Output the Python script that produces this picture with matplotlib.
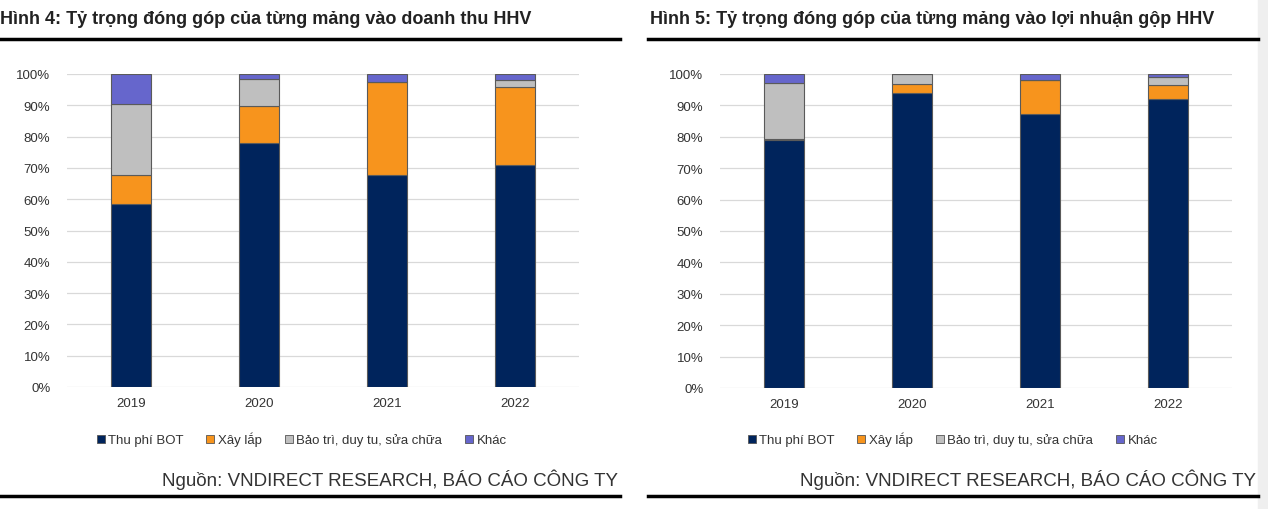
import numpy as np
import matplotlib
matplotlib.use("Agg")
import matplotlib.pyplot as plt
from matplotlib.lines import Line2D
from matplotlib.patches import Rectangle

plt.rcParams['font.family'] = ['Liberation Sans', 'DejaVu Sans']

# Data (share of each segment, %)
years = ['2019', '2020', '2021', '2022']
segments = ['Thu phí BOT', 'Xây lắp', 'Bảo trì, duy tu, sửa chữa', 'Khác']
colors = ['#00245c', '#f7941d', '#bfbfbf', '#6666cc']

rev_bot = [58.4, 78.0, 67.8, 70.8]
rev_xaylap = [9.2, 11.7, 29.7, 25.1]
rev_baotri = [22.7, 8.6, 0.0, 2.3]
rev_khac = [9.7, 1.7, 2.5, 1.8]

gp_bot = [79.1, 94.0, 87.2, 91.9]
gp_xaylap = [0.3, 2.7, 10.9, 4.6]
gp_baotri = [17.8, 3.3, 0.0, 2.4]
gp_khac = [2.8, 0.0, 1.9, 1.1]

titles = ['Hình 4: Tỷ trọng đóng góp của từng mảng vào doanh thu HHV',
          'Hình 5: Tỷ trọng đóng góp của từng mảng vào lợi nhuận gộp HHV']
source = 'Nguồn: VNDIRECT RESEARCH, BÁO CÁO CÔNG TY'

W, H = 1268, 510
fig = plt.figure(figsize=(W / 100, H / 100), dpi=100)

# light grey strip on right edge
fig.add_artist(Rectangle((1258 / W, 0), 10 / W, 1, transform=fig.transFigure,
                         color='#efefef', zorder=0))


def px(x, y):
    return x / W, 1 - y / H


def draw_panel(ax_left, ax_bottom_px, ax_top_px, series, title, x0, x1, leg_cx, title_x):
    ax = fig.add_axes([ax_left / W, 1 - ax_bottom_px / H, 512 / W, (ax_bottom_px - ax_top_px) / H])
    x = np.arange(len(years))
    bottom = np.zeros(len(years))
    for vals, c, name in zip(series, colors, segments):
        vals = np.array(vals)
        ax.bar(x, vals, bottom=bottom, width=0.32, color=c, edgecolor='#5a5a5a',
               linewidth=0.8, label=name, zorder=3)
        bottom += vals
    ax.set_xlim(-0.5, 3.5)
    ax.set_ylim(0, 100)
    ax.set_yticks(np.arange(0, 101, 10))
    ax.set_yticklabels([f'{v}%' for v in range(0, 101, 10)])
    ax.set_xticks(x)
    ax.set_xticklabels(years)
    ax.grid(axis='y', color='#d9d9d9', linewidth=0.9, zorder=0)
    for s in ax.spines.values():
        s.set_visible(False)
    ax.tick_params(length=0, labelsize=9.5, colors='#333333')
    ax.tick_params(axis='y', pad=12)
    ax.tick_params(axis='x', pad=7)

    handles = [Line2D([], [], marker='s', linestyle='', markersize=6,
                      markerfacecolor=c, markeredgecolor='#555555', markeredgewidth=0.6)
               for c in colors]
    fig.legend(handles, segments, loc='center', bbox_to_anchor=px(leg_cx, 440),
               ncol=4, frameon=False, fontsize=9.5, handlelength=0.8,
               handletextpad=0.2, columnspacing=1.6, labelcolor='#333333')

    fig.text(*px(title_x, 19), title, fontsize=13, fontweight='bold',
             color='#222222', va='center', ha='left')
    fig.add_artist(Line2D([x0 / W, x1 / W], [1 - 40 / H] * 2, color='black',
                          linewidth=2.5, transform=fig.transFigure))
    fig.text(*px(x1 - 2, 480), source, fontsize=13.5, color='#333333',
             va='center', ha='right')
    fig.add_artist(Line2D([x0 / W, x1 / W], [1 - 497 / H] * 2, color='black',
                          linewidth=2.5, transform=fig.transFigure))
    return ax


draw_panel(67, 388, 75, [rev_bot, rev_xaylap, rev_baotri, rev_khac], titles[0],
           0, 620, 301, 0)
draw_panel(720, 389, 75, [gp_bot, gp_xaylap, gp_baotri, gp_khac], titles[1],
           648, 1258, 952, 650)

fig.savefig('out.png', dpi=100)
